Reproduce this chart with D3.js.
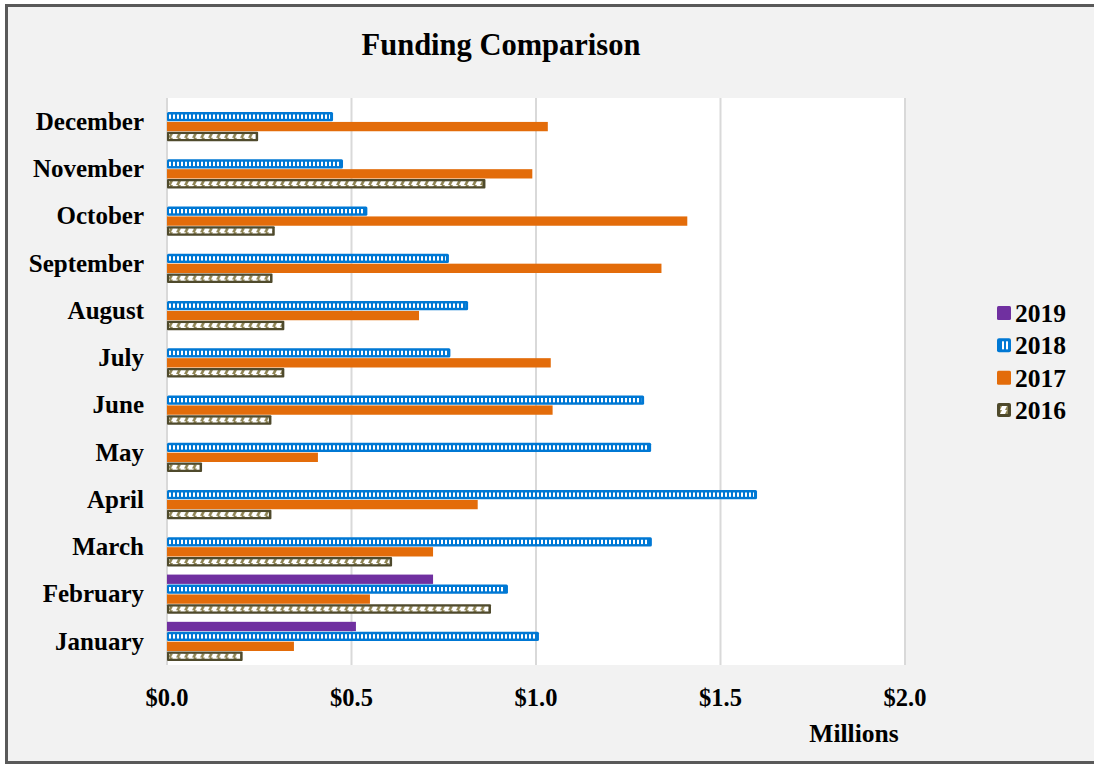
<!DOCTYPE html>
<html><head><meta charset="utf-8">
<script src="https://cdn.jsdelivr.net/npm/d3@7"></script>
<style>
html,body{margin:0;padding:0;background:#fff;overflow:hidden;}
svg{display:block;}
text{font-family:"Liberation Serif","Times New Roman",serif;font-weight:bold;fill:#000;}
</style></head>
<body>
<svg id="chart" width="1094" height="765"></svg>
<script>
const months = ["January","February","March","April","May","June","July","August","September","October","November","December"];
const seriesNames = ["2019","2018","2017","2016"];
const v2019 = [0.512, 0.721, null, null, null, null, null, null, null, null, null, null];
const v2018 = [1.008, 0.924, 1.314, 1.599, 1.312, 1.293, 0.768, 0.816, 0.764, 0.543, 0.477, 0.450];
const v2017 = [0.344, 0.550, 0.721, 0.842, 0.409, 1.045, 1.040, 0.683, 1.340, 1.410, 0.990, 1.032];
const v2016 = [0.205, 0.878, 0.610, 0.283, 0.095, 0.283, 0.318, 0.318, 0.286, 0.292, 0.863, 0.247];
const xTicks = [0, 0.5, 1.0, 1.5, 2.0];
const title = "Funding Comparison";
const axisTitle = "Millions";

const values = {"2019": v2019, "2018": v2018, "2017": v2017, "2016": v2016};
const colors = {"2019": "#7030a0", "2018": "#0078d4", "2017": "#e36c0a", "2016": "#4f4a2c"};

const svg = d3.select("#chart");
const W = 1094, H = 765;

// frame
svg.append("rect").attr("x", 0).attr("y", 0).attr("width", W).attr("height", H).attr("fill", "#fff");
svg.append("rect").attr("x", 6.5).attr("y", 5.5).attr("width", 1200).attr("height", 757)
  .attr("fill", "#f2f2f2").attr("stroke", "#595959").attr("stroke-width", 3);

const plot = {left: 166, right: 906, top: 98, bottom: 665};
svg.append("rect").attr("x", plot.left).attr("y", plot.top)
  .attr("width", plot.right - plot.left).attr("height", plot.bottom - plot.top).attr("fill", "#fff");

const x = d3.scaleLinear().domain([0, 2]).range([167, 905]);
const y = d3.scaleBand().domain(months).range([plot.bottom, plot.top]).paddingInner(0.16).paddingOuter(0.08);
const ySub = d3.scaleBand().domain(seriesNames).range([0, y.bandwidth()]);

// defs / patterns
const defs = svg.append("defs");
const p18 = defs.append("pattern").attr("id", "p2018").attr("patternUnits", "userSpaceOnUse")
  .attr("width", 4).attr("height", 4);
p18.append("rect").attr("width", 4).attr("height", 4).attr("fill", colors["2018"]);
p18.append("rect").attr("x", 1).attr("width", 2).attr("height", 4).attr("fill", "#fff");

const p16 = defs.append("pattern").attr("id", "p2016").attr("patternUnits", "userSpaceOnUse")
  .attr("width", 8).attr("height", 4);
p16.append("rect").attr("width", 8).attr("height", 4).attr("fill", "#fff");
p16.append("path").attr("d", "M0,4 L3,4 L5,0 L2,0 Z").attr("fill", "#8f8555");

// gridlines
svg.append("g").selectAll("line").data(xTicks).join("line")
  .attr("x1", d => x(d)).attr("x2", d => x(d))
  .attr("y1", plot.top).attr("y2", plot.bottom)
  .attr("stroke", "#d9d9d9").attr("stroke-width", 2);

// bars
const groups = svg.append("g").selectAll("g").data(months).join("g")
  .attr("transform", d => `translate(0,${y(d)})`);

groups.each(function(m, i) {
  const g = d3.select(this);
  seriesNames.forEach(s => {
    const v = values[s][i];
    if (v == null) return;
    const by = ySub(s), bh = ySub.bandwidth();
    const w = x(v) - x(0);
    if (s === "2018") {
      g.append("rect").attr("x", x(0)).attr("y", by + 0.3).attr("width", w).attr("height", bh - 0.6)
        .attr("rx", 1.5).attr("fill", colors[s]);
      g.append("rect").attr("x", x(0) + 2).attr("y", by + 2.8).attr("width", Math.max(0, w - 5)).attr("height", bh - 5.6)
        .attr("fill", "url(#p2018)");
    } else if (s === "2016") {
      g.append("rect").attr("x", x(0)).attr("y", by + 0.3).attr("width", w).attr("height", bh - 0.6)
        .attr("rx", 1).attr("fill", colors[s]);
      g.append("rect").attr("x", x(0) + 2).attr("y", by + 2.5).attr("width", Math.max(0, w - 4.5)).attr("height", bh - 5)
        .attr("fill", "url(#p2016)");
    } else {
      g.append("rect").attr("x", x(0)).attr("y", by + 0.3).attr("width", w).attr("height", bh - 0.6)
        .attr("fill", colors[s]);
    }
  });
});

// category labels
svg.append("g").selectAll("text").data(months).join("text")
  .attr("x", 144).attr("y", d => y(d) + y.bandwidth() / 2).attr("dy", "0.33em")
  .attr("text-anchor", "end").attr("font-size", 25).text(d => d);

// x tick labels
const fmt = d => "$" + d3.format(".1f")(d);
svg.append("g").selectAll("text").data(xTicks).join("text")
  .attr("x", d => x(d)).attr("y", 706).attr("text-anchor", "middle").attr("font-size", 24.5).text(fmt);

svg.append("text").attr("x", 854).attr("y", 742).attr("text-anchor", "middle").attr("font-size", 25.5).text(axisTitle);

svg.append("text").attr("x", 501).attr("y", 55).attr("text-anchor", "middle").attr("font-size", 30.5).text(title);

// legend
const legY = d3.scalePoint().domain(seriesNames).range([313, 410]);
const leg = svg.append("g").selectAll("g").data(seriesNames).join("g")
  .attr("transform", d => `translate(997,${legY(d)})`);
leg.each(function(s) {
  const g = d3.select(this);
  if (s === "2018") {
    g.append("rect").attr("x", 0).attr("y", -7).attr("width", 14).attr("height", 14).attr("rx", 2).attr("fill", colors[s]);
    g.append("rect").attr("x", 3).attr("y", -4).attr("width", 8).attr("height", 8).attr("fill", "url(#p2018)");
  } else if (s === "2016") {
    g.append("rect").attr("x", 0).attr("y", -7).attr("width", 14).attr("height", 14).attr("rx", 2).attr("fill", colors[s]);
    g.append("rect").attr("x", 3).attr("y", -4).attr("width", 8).attr("height", 8).attr("fill", "url(#p2016)");
  } else {
    g.append("rect").attr("x", 0).attr("y", -7).attr("width", 14).attr("height", 14).attr("rx", 1.5).attr("fill", colors[s]);
  }
  g.append("text").attr("x", 18).attr("y", 0).attr("dy", "0.35em").attr("font-size", 25.5).text(s);
});
</script>
</body></html>
